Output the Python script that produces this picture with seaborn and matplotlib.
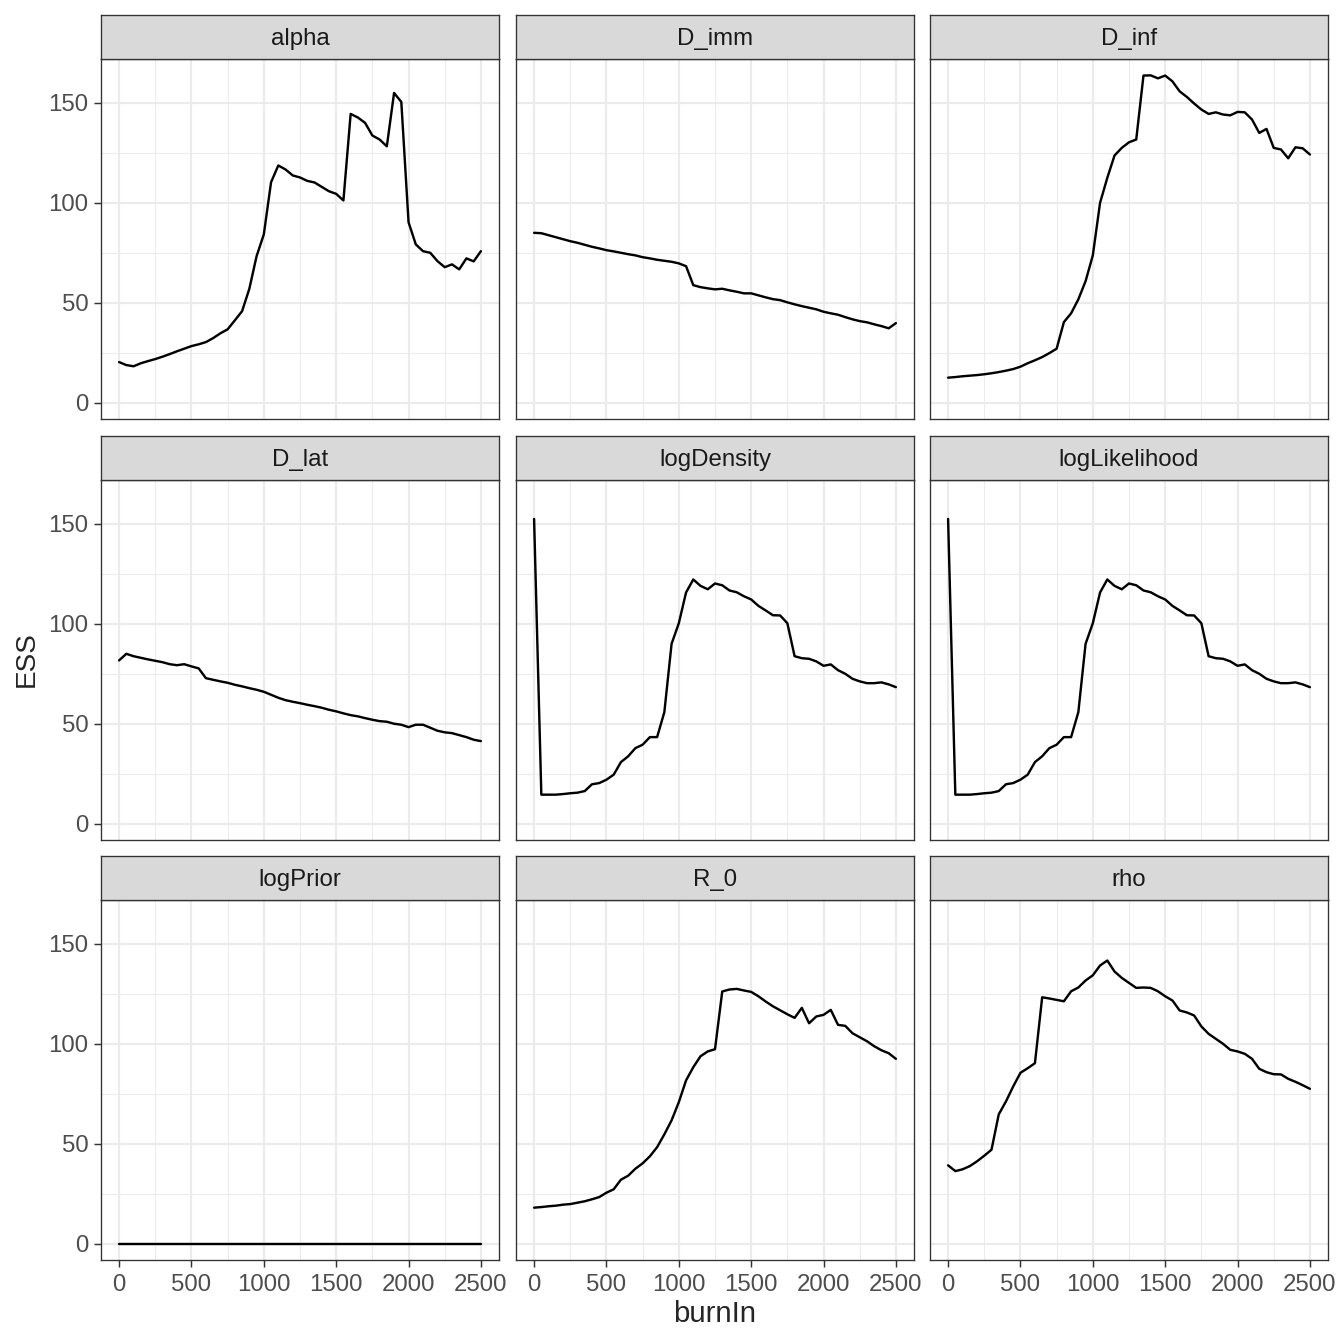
import numpy as np
import pandas as pd
import matplotlib
matplotlib.use("Agg")
import matplotlib.pyplot as plt
import seaborn as sns

# burn-in values on the x axis (one ESS value per burn-in step)
burn_in = list(range(0, 2501, 50))

params = ["alpha", "D_imm", "D_inf", "D_lat", "logDensity",
          "logLikelihood", "logPrior", "R_0", "rho"]

ess_alpha = [20.3, 18.8, 18.2, 19.7, 20.8, 21.8, 23.0, 24.3, 25.7, 27.0,
             28.3, 29.2, 30.3, 32.3, 34.7, 36.7, 41.2, 45.8, 57.0, 73.3,
             84.2, 110.3, 118.7, 116.7, 113.7, 112.7, 111.0, 110.2, 108.0, 105.8,
             104.5, 101.2, 144.5, 142.7, 140.0, 133.7, 131.7, 128.3, 155.0, 150.5,
             90.3, 79.2, 75.8, 75.0, 70.8, 67.8, 69.2, 66.7, 72.2, 70.7,
             75.8]

ess_D_imm = [85.0, 84.8, 83.8, 82.8, 81.8, 80.8, 80.0, 79.0, 78.0, 77.2,
             76.3, 75.7, 75.0, 74.3, 73.7, 72.8, 72.2, 71.5, 71.0, 70.5,
             69.7, 68.3, 58.8, 57.8, 57.2, 56.7, 57.0, 56.2, 55.5, 54.7,
             54.7, 53.7, 52.7, 51.8, 51.3, 50.2, 49.2, 48.3, 47.5, 46.7,
             45.5, 44.7, 44.0, 42.8, 41.7, 40.8, 40.2, 39.2, 38.3, 37.2,
             39.8]

ess_D_inf = [12.5, 12.8, 13.2, 13.5, 13.8, 14.2, 14.7, 15.3, 16.0, 16.8,
             18.0, 19.7, 21.2, 22.8, 24.8, 27.0, 40.3, 44.7, 51.7, 60.8,
             73.7, 100.0, 112.5, 123.7, 127.5, 130.3, 131.7, 163.7, 163.8, 162.3,
             163.7, 160.8, 155.8, 153.0, 149.7, 146.7, 144.5, 145.3, 144.2, 143.8,
             145.5, 145.3, 141.7, 135.0, 137.0, 127.5, 126.7, 122.3, 127.8, 127.3,
             124.2]

ess_D_lat = [81.7, 85.0, 83.8, 83.0, 82.2, 81.5, 80.8, 79.8, 79.3, 79.8,
             78.7, 77.7, 72.8, 72.0, 71.2, 70.5, 69.5, 68.7, 67.8, 67.0,
             66.0, 64.5, 63.0, 61.8, 61.0, 60.3, 59.5, 58.8, 58.0, 57.0,
             56.2, 55.2, 54.3, 53.7, 52.8, 52.0, 51.3, 51.0, 50.0, 49.5,
             48.3, 49.5, 49.5, 48.0, 46.5, 45.7, 45.3, 44.3, 43.3, 42.0,
             41.3]

ess_logDensity = [152.5, 14.5, 14.5, 14.5, 14.8, 15.2, 15.5, 16.3, 19.7, 20.3,
                  22.0, 24.5, 30.8, 33.7, 37.8, 39.5, 43.3, 43.3, 55.8, 90.0,
                  100.3, 115.7, 122.2, 119.0, 117.3, 120.2, 119.3, 116.7, 115.8, 113.8,
                  112.2, 109.0, 106.7, 104.3, 104.2, 100.3, 83.8, 82.8, 82.5, 81.2,
                  79.0, 79.7, 76.8, 75.0, 72.5, 71.2, 70.3, 70.3, 70.7, 69.7,
                  68.3]

ess_logLikelihood = [152.5, 14.5, 14.5, 14.5, 14.8, 15.2, 15.5, 16.3, 19.7, 20.3,
                     22.0, 24.5, 30.8, 33.7, 37.8, 39.5, 43.3, 43.3, 55.8, 90.0,
                     100.3, 115.7, 122.2, 119.0, 117.3, 120.2, 119.3, 116.7, 115.8, 113.8,
                     112.2, 109.0, 106.7, 104.3, 104.2, 100.3, 83.8, 82.8, 82.5, 81.2,
                     79.0, 79.7, 76.8, 75.0, 72.5, 71.2, 70.3, 70.3, 70.7, 69.7,
                     68.3]

ess_logPrior = [0.0] * len(burn_in)

ess_R_0 = [18.0, 18.3, 18.7, 19.0, 19.5, 19.8, 20.5, 21.2, 22.2, 23.3,
           25.5, 27.2, 32.0, 34.0, 37.5, 40.2, 43.7, 48.3, 54.7, 61.7,
           70.8, 81.7, 88.3, 93.8, 96.2, 97.3, 126.2, 127.2, 127.5, 126.7,
           126.0, 123.8, 121.2, 118.8, 116.8, 114.8, 113.0, 118.0, 110.3, 113.7,
           114.5, 117.0, 109.5, 109.0, 105.3, 103.3, 101.3, 98.8, 96.8, 95.3,
           92.5]

ess_rho = [39.2, 36.3, 37.2, 38.8, 41.2, 44.0, 47.0, 64.7, 71.2, 78.7,
           85.5, 87.8, 90.3, 123.3, 122.7, 122.0, 121.3, 126.3, 128.2, 131.7,
           134.3, 139.2, 141.7, 136.2, 133.0, 130.5, 128.0, 128.2, 128.0, 126.3,
           123.8, 121.7, 116.7, 115.7, 114.2, 108.7, 105.0, 102.5, 100.0, 97.0,
           96.2, 95.0, 92.5, 87.5, 85.8, 84.8, 84.7, 82.5, 81.0, 79.3,
           77.5]

series = [ess_alpha, ess_D_imm, ess_D_inf, ess_D_lat, ess_logDensity,
          ess_logLikelihood, ess_logPrior, ess_R_0, ess_rho]

df = pd.concat([pd.DataFrame({"burnIn": burn_in, "ESS": vals, "param": name})
                for name, vals in zip(params, series)], ignore_index=True)

sns.set_style("white")
plt.rcParams["font.family"] = ["Liberation Sans", "DejaVu Sans"]

W = H = 1344
fig = plt.figure(figsize=(14, 14), dpi=96)

col_left = [101, 516, 930]
panel_w = 398
strip_top = [15, 436, 856]
strip_h = 44
panel_h = 360

# shared limits with ggplot-like 5% expansion
xmin, xmax = df["burnIn"].min(), df["burnIn"].max()
ymin, ymax = df["ESS"].min(), df["ESS"].max()
xpad = 0.05 * (xmax - xmin)
ypad = 0.05 * (ymax - ymin)

grey20 = "#333333"

for i, name in enumerate(params):
    r, c = divmod(i, 3)
    left = col_left[c] / W
    top_px = strip_top[r] + strip_h
    ax = fig.add_axes([left, 1 - (top_px + panel_h) / H, panel_w / W, panel_h / H])
    sub = df[df["param"] == name]
    sns.lineplot(data=sub, x="burnIn", y="ESS", ax=ax, color="black", linewidth=1.8)
    ax.set_xlim(xmin - xpad, xmax + xpad)
    ax.set_ylim(ymin - ypad, ymax + ypad)
    ax.set_xticks([0, 500, 1000, 1500, 2000, 2500])
    ax.set_xticks([250, 750, 1250, 1750, 2250], minor=True)
    ax.set_yticks([0, 50, 100, 150])
    ax.set_yticks([25, 75, 125], minor=True)
    ax.grid(which="major", color="#EBEBEB", linewidth=1.6)
    ax.grid(which="minor", color="#EBEBEB", linewidth=0.8)
    ax.set_axisbelow(True)
    for sp in ax.spines.values():
        sp.set_color(grey20)
        sp.set_linewidth(1.0)
    ax.tick_params(which="major", bottom=True, left=True, direction="out",
                   length=5.2, width=1.1, color=grey20,
                   labelcolor="#4D4D4D", labelsize=18)
    ax.tick_params(axis="x", which="major", pad=5)
    ax.tick_params(axis="y", which="major", pad=4)
    ax.tick_params(which="minor", length=0)
    ax.set_xlabel("")
    ax.set_ylabel("")
    if r < 2:
        ax.tick_params(axis="x", bottom=False, labelbottom=False)
    if c > 0:
        ax.tick_params(axis="y", left=False, labelleft=False)

    # strip on top of each panel
    sax = fig.add_axes([left, 1 - top_px / H, panel_w / W, strip_h / H])
    sax.set_facecolor("#D9D9D9")
    sax.set_xticks([])
    sax.set_yticks([])
    for sp in sax.spines.values():
        sp.set_color(grey20)
        sp.set_linewidth(1.0)
    sax.text(0.5, 0.45, name, ha="center", va="center", fontsize=18,
             color="#1A1A1A", transform=sax.transAxes)

fig.text(715 / W, 1 - 1314 / H, "burnIn", ha="center", va="center", fontsize=22)
fig.text(27 / W, 1 - 659 / H, "ESS", ha="center", va="center", fontsize=21,
         rotation=90)

plt.savefig("out.png", dpi=96)
